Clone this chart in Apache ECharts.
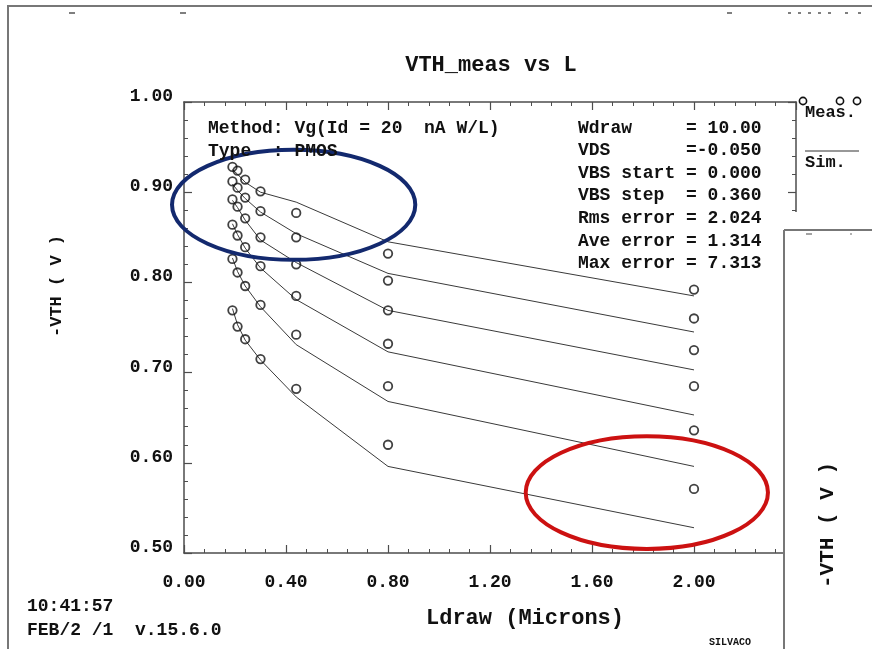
<!DOCTYPE html>
<html>
<head>
<meta charset="utf-8">
<script src="https://cdn.jsdelivr.net/npm/echarts@6/dist/echarts.min.js"></script>
<style>
  html, body { margin: 0; padding: 0; background: #ffffff; }
  #chart { width: 872px; height: 649px; }
</style>
</head>
<body>
<div id="chart"></div>
<script>
// Drawn gate lengths (microns)
const ldraw = [0.19, 0.21, 0.24, 0.30, 0.44, 0.80, 2.00];

// Measured -VTH (V), one array per body-bias step (VBS = 0, 0.36, ... 1.80)
const meas0 = [0.928, 0.924, 0.914, 0.901, 0.877, 0.832, 0.792];
const meas1 = [0.912, 0.905, 0.894, 0.879, 0.850, 0.802, 0.760];
const meas2 = [0.892, 0.884, 0.871, 0.850, 0.820, 0.769, 0.725];
const meas3 = [0.864, 0.852, 0.839, 0.818, 0.785, 0.732, 0.685];
const meas4 = [0.826, 0.811, 0.796, 0.775, 0.742, 0.685, 0.636];
const meas5 = [0.769, 0.751, 0.737, 0.715, 0.682, 0.620, 0.571];

// Simulated -VTH (V) at the same lengths
const sim0 = [0.925, 0.920, 0.911, 0.900, 0.889, 0.845, 0.785];
const sim1 = [0.909, 0.902, 0.893, 0.878, 0.854, 0.810, 0.745];
const sim2 = [0.891, 0.883, 0.869, 0.847, 0.822, 0.769, 0.703];
const sim3 = [0.865, 0.853, 0.838, 0.816, 0.781, 0.723, 0.653];
const sim4 = [0.827, 0.812, 0.796, 0.773, 0.731, 0.668, 0.596];
const sim5 = [0.771, 0.753, 0.736, 0.714, 0.673, 0.596, 0.528];

const measSets = [meas0, meas1, meas2, meas3, meas4, meas5];
const simSets = [sim0, sim1, sim2, sim3, sim4, sim5];

// Axis ranges and tick labels
const xRange = [0, 2.4, 0.4];
const yRange = [0.5, 1.0, 0.1];
const xTickLabels = ['0.00', '0.40', '0.80', '1.20', '1.60', '2.00'];

// Extraction parameters printed in the plot
const methodLines = ['Method: Vg(Id = 20  nA W/L)', 'Type  : PMOS'];
const paramLines = [
  'Wdraw     = 10.00',
  'VDS       =-0.050',
  'VBS start = 0.000',
  'VBS step  = 0.360',
  'Rms error = 2.024',
  'Ave error = 1.314',
  'Max error = 7.313'
];

// Highlight ellipses in data units: centre and half-spans
const highlightShort = { cx: 0.43, cy: 0.886, hx: 0.477, hy: 0.061, color: '#13296e' };
const highlightLong = { cx: 1.815, cy: 0.567, hx: 0.475, hy: 0.0625, color: '#cc1111' };

const MONO = '"Liberation Mono", "DejaVu Sans Mono", monospace';
const AXIS_COLOR = '#4d4d4d';

const chart = echarts.init(document.getElementById('chart'), null, { renderer: 'canvas' });

const pairs = (arr) => ldraw.map((x, i) => [x, arr[i]]);

const series = [];
simSets.forEach((s, k) => {
  series.push({
    type: 'line', name: 'Sim.' + k, data: pairs(s), xAxisIndex: 0, yAxisIndex: 0,
    showSymbol: false, symbol: 'none', silent: true,
    lineStyle: { color: '#3a3a3a', width: 1 }, z: 2
  });
});
measSets.forEach((m, k) => {
  series.push({
    type: 'scatter', name: 'Meas.' + k, data: pairs(m), xAxisIndex: 0, yAxisIndex: 0,
    symbol: 'circle', symbolSize: 8.5,
    itemStyle: { color: 'rgba(255,255,255,0)', borderColor: '#111111', borderWidth: 1.8 }, z: 3
  });
});

const tickCommon = {
  axisLine: { show: true, onZero: false, lineStyle: { color: AXIS_COLOR, width: 1.5 } },
  axisTick: { show: true, inside: true, length: 8, lineStyle: { color: AXIS_COLOR, width: 1.2 } },
  minorTick: { show: true, splitNumber: 5, length: 4, lineStyle: { color: AXIS_COLOR, width: 1 } },
  splitLine: { show: false },
  minorSplitLine: { show: false }
};

const labelFont = { fontFamily: MONO, fontWeight: 'bold', fontSize: 18, color: '#111111' };

function textEl(text, x, y, size, opts) {
  return Object.assign({
    type: 'text', x: x, y: y, z: 50,
    style: Object.assign({
      text: text, fill: '#111111', font: 'bold ' + size + 'px ' + MONO,
      textAlign: 'left', textVerticalAlign: 'middle'
    }, (opts && opts.style) || {})
  }, (opts && opts.el) || {});
}

function lineEl(x1, y1, x2, y2, w, color, z) {
  return {
    type: 'line', z: z || 50,
    shape: { x1: x1, y1: y1, x2: x2, y2: y2 },
    style: { stroke: color || '#666666', lineWidth: w || 1 }
  };
}

const option = {
  animation: false,
  backgroundColor: '#ffffff',
  title: {
    text: 'VTH_meas vs L',
    left: 486, top: 49, textAlign: 'center',
    textStyle: { fontFamily: MONO, fontWeight: 'bold', fontSize: 22, color: '#111111' }
  },
  grid: { left: 184, top: 102, right: 76, bottom: 96, containLabel: false },
  xAxis: [
    Object.assign({
      type: 'value', position: 'bottom',
      min: xRange[0], max: xRange[1], interval: xRange[2],
      axisLabel: Object.assign({
        margin: 20,
        formatter: (v) => {
          const s = v.toFixed(2);
          return xTickLabels.indexOf(s) >= 0 ? s : '';
        }
      }, labelFont)
    }, tickCommon),
    Object.assign({
      type: 'value', position: 'top',
      min: xRange[0], max: xRange[1], interval: xRange[2],
      axisLabel: { show: false }
    }, tickCommon)
  ],
  yAxis: [
    Object.assign({
      type: 'value', position: 'left',
      min: yRange[0], max: yRange[1], interval: yRange[2],
      axisLabel: Object.assign({
        margin: 11, verticalAlign: 'bottom', lineHeight: 11,
        formatter: (v) => v.toFixed(2)
      }, labelFont)
    }, tickCommon),
    Object.assign({
      type: 'value', position: 'right',
      min: yRange[0], max: yRange[1], interval: yRange[2],
      axisLabel: { show: false }
    }, tickCommon)
  ],
  series: series
};

chart.setOption(option);

// Static annotations: frame, text blocks, legend, overlapping panel
const g = [];

// outer window frame
g.push({ type: 'polyline', z: 50, shape: { points: [[8, 649], [8, 6], [872, 6]] },
         style: { stroke: '#777777', lineWidth: 2, fill: null } });
// clipped glyph fragments along the top edge
[[69, 75], [180, 186], [727, 732], [788, 791], [798, 801], [808, 811], [818, 821], [828, 831], [845, 848], [858, 861]]
  .forEach(([a, b]) => g.push(lineEl(a, 13, b, 13, 1.5, '#555555')));

// y axis title
g.push(textEl('-VTH ( V )', 57, 286, 17, {
  style: { textAlign: 'center' }, el: { rotation: Math.PI / 2 }
}));

// method / type block
methodLines.forEach((t, i) => g.push(textEl(t, 208, 128 + i * 23, 18)));
// parameter block
paramLines.forEach((t, i) => g.push(textEl(t, 578, 128 + i * 22.6, 18)));

// x axis title
g.push(textEl('Ldraw (Microns)', 525, 618, 22, { style: { textAlign: 'center' } }));

// time stamp and version
g.push(textEl('10:41:57', 27, 606, 18));
g.push(textEl('FEB/2 /1  v.15.6.0', 27, 630, 18));
g.push(textEl('SILVACO', 730, 642, 10, { style: { textAlign: 'center' } }));

// legend
[803, 840, 857].forEach((cx) => g.push({
  type: 'circle', z: 50, shape: { cx: cx, cy: 101, r: 3.6 },
  style: { fill: '#ffffff', stroke: '#111111', lineWidth: 1.6 }
}));
g.push(textEl('Meas.', 805, 113, 17));
g.push(lineEl(805, 151, 859, 151, 1.2, '#333333'));
g.push(textEl('Sim.', 805, 163, 17));

// overlapping second panel on the right
g.push({ type: 'rect', z: 60, shape: { x: 784, y: 212, width: 88, height: 437 },
         style: { fill: '#ffffff', stroke: null } });
g.push(lineEl(784, 230, 872, 230, 2, '#777777', 61));
g.push(lineEl(784, 230, 784, 649, 2, '#777777', 61));
g.push(lineEl(806, 234, 812, 234, 1.2, '#666666', 61));
g.push(lineEl(850, 234, 852, 234, 1.2, '#666666', 61));
g.push(textEl('-VTH ( V )', 828, 525, 21, {
  style: { textAlign: 'center' }, el: { rotation: Math.PI / 2, z: 61 }
}));

// highlight ellipses placed through the grid's own coordinate system
[highlightShort, highlightLong].forEach((h) => {
  const c = chart.convertToPixel({ gridIndex: 0 }, [h.cx, h.cy]);
  const e = chart.convertToPixel({ gridIndex: 0 }, [h.cx + h.hx, h.cy + h.hy]);
  g.push({
    type: 'ellipse', z: 40,
    shape: { cx: c[0], cy: c[1], rx: Math.abs(e[0] - c[0]), ry: Math.abs(e[1] - c[1]) },
    style: { fill: null, stroke: h.color, lineWidth: 4 }
  });
});

chart.setOption({ graphic: { elements: g } });
</script>
</body>
</html>
